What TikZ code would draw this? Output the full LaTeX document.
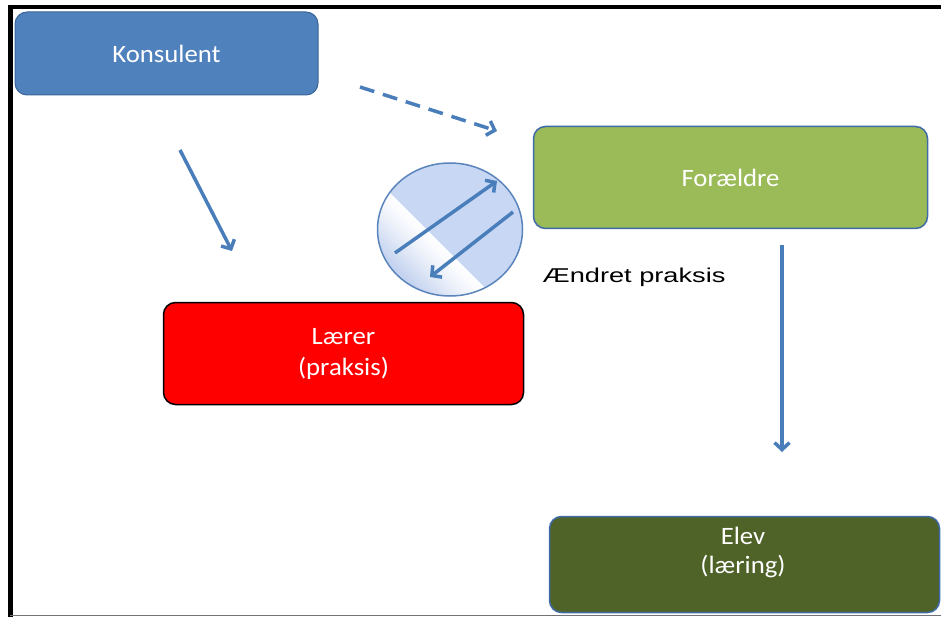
\documentclass[tikz,border=0pt]{standalone}
\usepackage{fontspec}
\usepackage{graphicx}
\setmainfont{Carlito}
\newfontfamily\arialfont{Liberation Sans}
\usetikzlibrary{arrows.meta}
\definecolor{konsfill}{HTML}{4F81BD}
\definecolor{konsdraw}{HTML}{3A6597}
\definecolor{forfill}{HTML}{9BBB59}
\definecolor{bluedraw}{HTML}{3E6AA6}
\definecolor{elevfill}{HTML}{4F6228}
\definecolor{arrowblue}{HTML}{4A7EBB}
\definecolor{ellblue}{HTML}{C8D8F4}
\definecolor{ellblueb}{HTML}{C4D3EF}
\definecolor{elldraw}{HTML}{5A84BC}
\newcommand\wx[1]{\scalebox{1.07}[1]{#1}}
\tikzset{
  box/.style={rounded corners=12pt, line width=1.5pt, text=white, align=center,
    font=\fontsize{25}{29}\selectfont, inner sep=0pt},
  boxtext/.style={text=white, align=center, font=\fontsize{25}{29}\selectfont, inner sep=0pt},
  conn/.style={draw=arrowblue, line width=3.5pt, -{Straight Barb[length=7pt,width=15pt,line width=3.5pt]}},
}
\begin{document}
\begin{tikzpicture}[x=1pt,y=-1pt]
\useasboundingbox (0,0) rectangle (941,617);
% frame
\draw[line width=4pt, black] (8,7) -- (941,7);
\draw[line width=5pt, black] (10.5,5) -- (10.5,617);
\draw[line width=1.5pt, black!55] (10,615.5) -- (941,615.5);
% boxes
\node[box, fill=konsfill, draw=konsdraw, line width=1pt, minimum width=303pt, minimum height=83pt] (kons) at (166.5,53.5) {\wx{Konsulent}};
\node[box, fill=forfill, draw=bluedraw, minimum width=394pt, minimum height=102pt] (for) at (730.5,177.5) {\wx{Forældre}};
\node[box, fill=red, draw=black, minimum width=360pt, minimum height=102pt] (laer) at (343.5,353.5) {\wx{Lærer}\\[2pt]\wx{(praksis)}};
\node[box, fill=elevfill, draw=bluedraw, minimum width=390pt, minimum height=96pt] (elev) at (744.5,564.5) {};
\node[boxtext] (elevtxt) at (743,552) {\wx{Elev}\\\wx{(læring)}};
% ellipse with diagonal light band
\begin{scope}
  \clip (450,229.5) ellipse [x radius=72.5pt, y radius=66.5pt];
  \fill[ellblue] (370,160) rectangle (530,300);
  \begin{scope}[shift={(435,238)}, rotate=-45]
    \foreach \i in {0,...,29} {
      \pgfmathsetmacro\pc{min(100,100*(\i/24)^1.3)}
      \fill[ellblueb!\pc!white] (-150,{\i*2}) rectangle (150,{\i*2+2.2});
    }
    \fill[ellblueb] (-150,60) rectangle (150,160);
  \end{scope}
\end{scope}
\draw[elldraw, line width=1.5pt] (450,229.5) ellipse [x radius=72.5pt, y radius=66.5pt];
\node[inner sep=0pt] (ell) at (450,229.5) {};
\coordinate (a1s) at (395,253);
\coordinate (a1e) at (497,181);
\coordinate (a2s) at (513,212);
\coordinate (a2e) at (430,277);
\draw[conn] (a1s) -- (a1e);
\draw[conn] (a2s) -- (a2e);
% label
\node[font=\arialfont\fontsize{20}{24}\selectfont, anchor=base, inner sep=0pt] (txt) at (634,283) {\scalebox{1.36}[1]{Ændret praksis}};
% connectors
\coordinate (k1) at (180,150);
\coordinate (k2) at (232,251);
\draw[conn] (k1) -- (k2);
\coordinate (d1) at (360,87);
\coordinate (d2) at (497,131);
\draw[conn, dash pattern=on 15pt off 9pt] (d1) -- (d2);
\coordinate (f1) at (782,245);
\coordinate (f2) at (782,452);
\draw[conn] (f1) -- (f2);
\end{tikzpicture}
\end{document}
